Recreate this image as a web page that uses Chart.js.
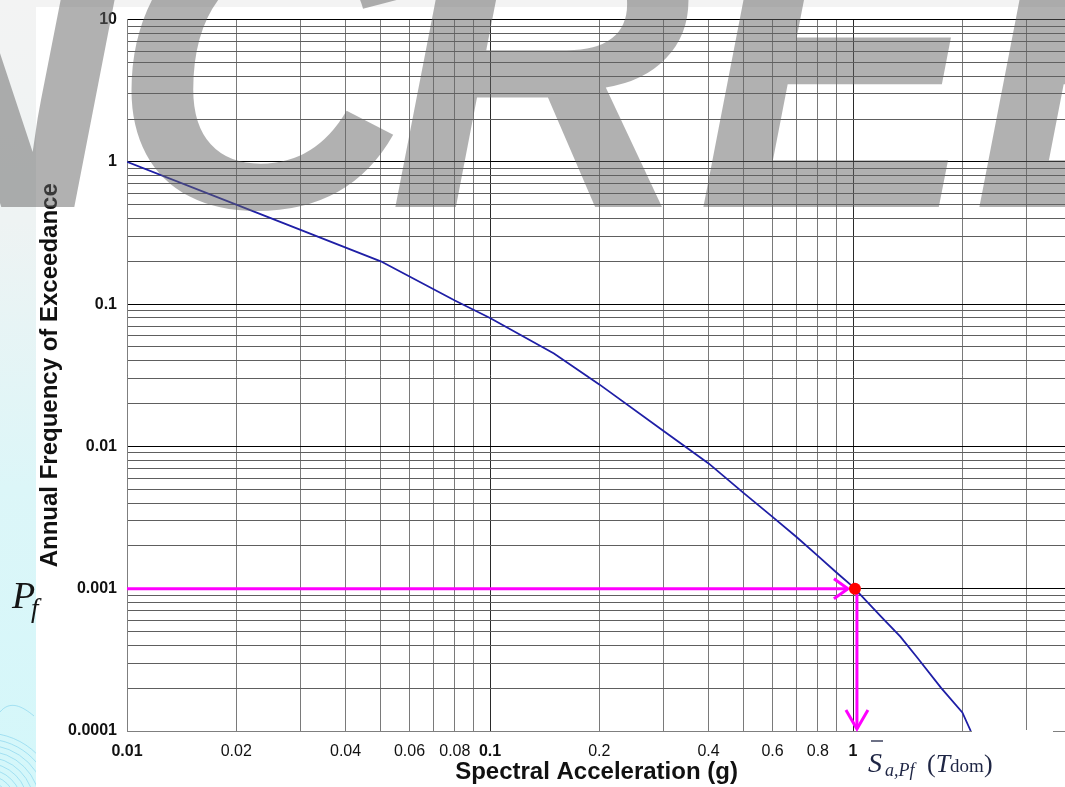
<!DOCTYPE html>
<html>
<head>
<meta charset="utf-8">
<script src="https://cdn.jsdelivr.net/npm/chart.js@4.4.1/dist/chart.umd.min.js"></script>
<style>
  html, body { margin: 0; padding: 0; background: #ffffff; overflow: hidden; }
  #wrap { position: relative; width: 1065px; height: 787px; overflow: hidden; }
  canvas { display: block; }
</style>
</head>
<body>
<div id="wrap"><canvas id="hazard" width="1072" height="787"></canvas></div>
<script>
// Seismic hazard curve: spectral acceleration (g) vs. annual frequency of exceedance
const saValues   = [0.01, 0.02, 0.05, 0.08, 0.1, 0.15, 0.2, 0.3, 0.4, 0.5, 0.6, 0.7, 0.8, 0.9, 1.0, 1.2, 1.35, 1.5, 1.75, 2.0, 2.11];
const freqValues = [1.0, 0.5, 0.2, 0.106, 0.08, 0.045, 0.0273, 0.0129, 0.0076, 0.0047, 0.0032, 0.0023, 0.0017, 0.0013, 0.00103, 0.00063, 0.00046, 0.00033, 0.0002, 0.000135, 0.0001];

// Target failure probability and the matching spectral acceleration
const pfLevel = [0.001];
const saAtPf  = [1.012];

// Log grid lines and their labels
const xGridValues = [0.01, 0.02, 0.03, 0.04, 0.05, 0.06, 0.07, 0.08, 0.09,
                     0.1, 0.2, 0.3, 0.4, 0.5, 0.6, 0.7, 0.8, 0.9, 1, 2, 3];
const xTickLabels = ['0.01', '0.02', '', '0.04', '', '0.06', '', '0.08', '',
                     '0.1', '0.2', '', '0.4', '', '0.6', '', '0.8', '', '1', '', ''];
const yGridValues = [0.0001, 0.0002, 0.0003, 0.0004, 0.0005, 0.0006, 0.0007, 0.0008, 0.0009,
                     0.001, 0.002, 0.003, 0.004, 0.005, 0.006, 0.007, 0.008, 0.009,
                     0.01, 0.02, 0.03, 0.04, 0.05, 0.06, 0.07, 0.08, 0.09,
                     0.1, 0.2, 0.3, 0.4, 0.5, 0.6, 0.7, 0.8, 0.9,
                     1, 2, 3, 4, 5, 6, 7, 8, 9, 10];
const yTickLabels = ['0.0001', '', '', '', '', '', '', '', '',
                     '0.001', '', '', '', '', '', '', '', '',
                     '0.01', '', '', '', '', '', '', '', '',
                     '0.1', '', '', '', '', '', '', '', '',
                     '1', '', '', '', '', '', '', '', '', '10'];

const xAxisTitle = 'Spectral Acceleration (g)';
const yAxisTitle = 'Annual Frequency of Exceedance';
const watermarkLetters = ['N', 'C', 'R', 'E', 'E'];
const watermarkX = [-180, 111, 388, 696, 972];

const SANS = '"Liberation Sans", Arial, sans-serif';
const SERIF = '"Liberation Serif", "Times New Roman", serif';

function isDecade(v) {
  const l = Math.log10(v);
  return Math.abs(l - Math.round(l)) < 1e-9;
}

const slideDecor = {
  id: 'slideDecor',
  beforeDraw(chart) {
    const ctx = chart.ctx;
    const W = chart.width, H = chart.height;
    ctx.save();
    ctx.fillStyle = '#ffffff';
    ctx.fillRect(0, 0, W, H);
    // top band
    ctx.fillStyle = '#f3f3f3';
    ctx.fillRect(0, 0, W, 7);
    // left side strip
    const g = ctx.createLinearGradient(0, 0, 0, H);
    g.addColorStop(0, '#f3f3f3');
    g.addColorStop(0.28, '#eef3f3');
    g.addColorStop(0.62, '#dcf6f8');
    g.addColorStop(1, '#d4f7fa');
    ctx.fillStyle = g;
    ctx.fillRect(0, 0, 36, H);
    // faint emblem at the lower left
    ctx.beginPath();
    ctx.rect(0, 680, 36, H - 680);
    ctx.clip();
    ctx.strokeStyle = 'rgba(120, 205, 235, 0.55)';
    ctx.lineWidth = 1;
    for (let r = 24; r <= 74; r += 6) {
      ctx.beginPath();
      ctx.arc(-14, 805, r, -Math.PI / 2, 0);
      ctx.stroke();
    }
    ctx.beginPath();
    ctx.moveTo(0, 712);
    ctx.bezierCurveTo(10, 700, 22, 706, 34, 716);
    ctx.stroke();
    ctx.restore();
  },
  beforeDatasetsDraw(chart) {
    const ctx = chart.ctx;
    const xs = chart.scales.x, ys = chart.scales.y;
    const area = chart.chartArea;
    const px = xs.getPixelForValue(saAtPf[0]);
    const py = ys.getPixelForValue(pfLevel[0]);
    ctx.save();
    ctx.strokeStyle = '#ff00ff';
    ctx.lineWidth = 3;
    ctx.lineJoin = 'miter';
    // horizontal arrow towards the curve
    const tipX = px - 7;
    ctx.beginPath();
    ctx.moveTo(area.left, py);
    ctx.lineTo(tipX, py);
    ctx.stroke();
    ctx.beginPath();
    ctx.moveTo(tipX - 14, py - 10);
    ctx.lineTo(tipX, py);
    ctx.lineTo(tipX - 14, py + 10);
    ctx.stroke();
    // vertical arrow down to the acceleration axis
    const vx = px + 2;
    const tipY = area.bottom - 2;
    ctx.beginPath();
    ctx.moveTo(vx, py);
    ctx.lineTo(vx, tipY);
    ctx.stroke();
    ctx.beginPath();
    ctx.moveTo(vx - 11, tipY - 19);
    ctx.lineTo(vx, tipY);
    ctx.lineTo(vx + 11, tipY - 19);
    ctx.stroke();
    ctx.restore();
  },
  afterDraw(chart) {
    const ctx = chart.ctx;
    const area = chart.chartArea;
    ctx.save();
    // gap in the axis line behind the formula label
    ctx.fillStyle = '#ffffff';
    ctx.fillRect(972, area.bottom - 1, 81, 4);

    // P_f label
    ctx.fillStyle = '#151515';
    ctx.textBaseline = 'alphabetic';
    ctx.textAlign = 'left';
    ctx.font = 'italic 38px ' + SERIF;
    ctx.fillText('P', 12, 608);
    ctx.font = 'italic 27px ' + SERIF;
    ctx.fillText('f', 31, 617);

    // S_a,Pf (T_dom) label
    ctx.fillStyle = '#1e2544';
    let x = 868;
    ctx.font = 'italic 28px ' + SERIF;
    const sW = ctx.measureText('S').width;
    ctx.fillText('S', x, 772);
    ctx.strokeStyle = '#1e2544';
    ctx.lineWidth = 1.3;
    ctx.beginPath();
    ctx.moveTo(x + 3, 741);
    ctx.lineTo(x + sW + 1, 741);
    ctx.stroke();
    x += sW + 3;
    ctx.font = 'italic 18px ' + SERIF;
    ctx.fillText('a,Pf', x, 776);
    x = 927;
    ctx.font = '26px ' + SERIF;
    ctx.fillText('(', x, 772);
    x += ctx.measureText('(').width;
    ctx.font = 'italic 26px ' + SERIF;
    ctx.fillText('T', x, 772);
    x += ctx.measureText('T').width;
    ctx.font = '19px ' + SERIF;
    ctx.fillText('dom', x, 772);
    x += ctx.measureText('dom').width;
    ctx.font = '26px ' + SERIF;
    ctx.fillText(')', x, 772);

    // watermark lettering across the top
    ctx.font = 'italic bold 420px ' + SANS;
    ctx.fillStyle = 'rgba(100, 100, 100, 0.5)';
    watermarkLetters.forEach((ch, i) => ctx.fillText(ch, watermarkX[i], 207));
    ctx.restore();
  }
};

new Chart(document.getElementById('hazard'), {
  type: 'line',
  data: {
    datasets: [
      {
        label: 'Pf point',
        data: saAtPf.map((v, i) => ({ x: v, y: pfLevel[i] })),
        showLine: false,
        pointRadius: 6,
        pointBackgroundColor: '#ff0000',
        pointBorderColor: '#ff0000',
        pointBorderWidth: 0,
        order: 0
      },
      {
        label: 'Hazard curve',
        data: saValues.map((v, i) => ({ x: v, y: freqValues[i] })),
        borderColor: '#1f1fa6',
        borderWidth: 1.8,
        pointRadius: 0,
        tension: 0,
        fill: false,
        order: 1
      }
    ]
  },
  options: {
    responsive: false,
    animation: false,
    devicePixelRatio: 1,
    layout: { padding: { left: 0, right: 0, top: 17, bottom: 0 } },
    plugins: {
      legend: { display: false },
      tooltip: { enabled: false }
    },
    scales: {
      x: {
        type: 'logarithmic',
        min: 0.01,
        max: 3.86,
        afterBuildTicks: (scale) => {
          scale.ticks = xGridValues.map(v => ({ value: v }));
        },
        afterFit: (scale) => { scale.height = 56; },
        ticks: {
          autoSkip: false,
          maxRotation: 0,
          padding: 11,
          color: '#111111',
          font: (ctx) => ({
            family: SANS,
            size: 16,
            weight: ctx.tick && isDecade(ctx.tick.value) ? 'bold' : 'normal'
          }),
          callback: (value, index) => xTickLabels[index]
        },
        grid: {
          drawTicks: false,
          color: (ctx) => (ctx.tick && isDecade(ctx.tick.value)) ? '#2a2a2a' : '#7a7a7a',
          lineWidth: 1
        },
        border: { display: true, color: '#7f7f7f', width: 1 },
        title: {
          display: true,
          text: xAxisTitle,
          color: '#111111',
          font: { family: SANS, size: 24, weight: 'bold' },
          padding: { top: 0, bottom: 0 }
        }
      },
      y: {
        type: 'logarithmic',
        min: 0.0001,
        max: 10,
        afterBuildTicks: (scale) => {
          scale.ticks = yGridValues.map(v => ({ value: v }));
        },
        afterFit: (scale) => { scale.width = 127; },
        ticks: {
          autoSkip: false,
          padding: 10,
          color: '#111111',
          font: { family: SANS, size: 16, weight: 'bold' },
          callback: (value, index) => yTickLabels[index]
        },
        grid: {
          drawTicks: false,
          color: (ctx) => (ctx.tick && isDecade(ctx.tick.value)) ? '#000000' : '#5e5e5e',
          lineWidth: 1
        },
        border: { display: true, color: '#7f7f7f', width: 1 },
        title: {
          display: true,
          text: yAxisTitle,
          color: '#111111',
          font: { family: SANS, size: 24, weight: 'bold' },
          padding: { top: 36, bottom: 0 }
        }
      }
    }
  },
  plugins: [slideDecor]
});
</script>
</body>
</html>
